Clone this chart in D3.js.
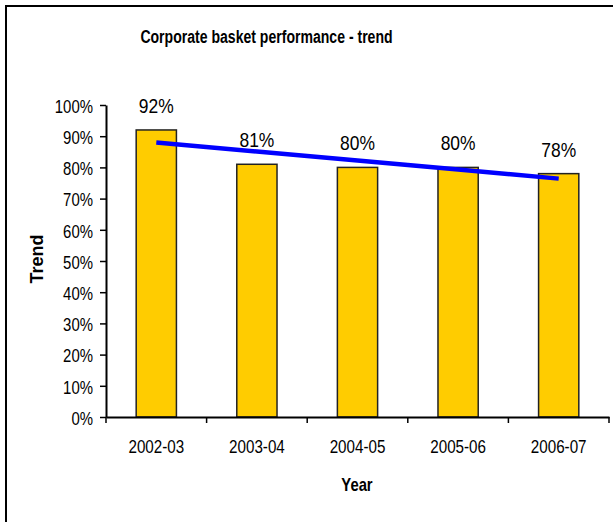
<!DOCTYPE html>
<html>
<head>
<meta charset="utf-8">
<script src="https://cdn.jsdelivr.net/npm/d3@7"></script>
<style>
  html, body { margin: 0; padding: 0; background: #fff; }
  svg { display: block; font-family: "Liberation Sans", Arial, sans-serif; }
</style>
</head>
<body>
<svg id="chart" width="613" height="522"></svg>
<script>
// Corporate basket performance by financial year
const years = ["2002-03", "2003-04", "2004-05", "2005-06", "2006-07"];
const performance = [92, 81, 80, 80, 78];
const yTicks = [0, 10, 20, 30, 40, 50, 60, 70, 80, 90, 100];

const svg = d3.select("#chart");

// chart-area frame
svg.append("rect")
  .attr("x", 6).attr("y", 6)
  .attr("width", 640).attr("height", 560)
  .attr("fill", "#fff").attr("stroke", "#000").attr("stroke-width", 2);

const plot = { left: 106, right: 609, top: 105, bottom: 417 };

const x = d3.scaleBand().domain(years).range([plot.left, plot.right]).padding(0);
const y = d3.scaleLinear().domain([0, 100]).range([plot.bottom, plot.top]);

const barW = x.bandwidth() * 0.4;

// bars
svg.append("g").selectAll("rect")
  .data(years.map((yr, i) => ({ yr, v: performance[i] })))
  .join("rect")
  .attr("x", d => x(d.yr) + x.bandwidth() / 2 - barW / 2)
  .attr("y", d => y(d.v))
  .attr("width", barW)
  .attr("height", d => y(0) - y(d.v))
  .attr("fill", "#FFCC00")
  .attr("stroke", "#222")
  .attr("stroke-width", 1.5);

// value labels
svg.append("g").selectAll("text")
  .data(years.map((yr, i) => ({ yr, v: performance[i] })))
  .join("text")
  .attr("transform", d => `translate(${x(d.yr) + x.bandwidth() / 2},${y(d.v) - 17}) scale(0.83,1)`)
  .attr("text-anchor", "middle")
  .attr("font-size", 21)
  .attr("fill", "#000")
  .text(d => d.v + "%");

// linear trend line (least squares over category index)
const n = performance.length;
const idx = d3.range(n);
const mx = d3.mean(idx), my = d3.mean(performance);
const slope = d3.sum(idx, i => (i - mx) * (performance[i] - my)) / d3.sum(idx, i => (i - mx) ** 2);
const fit = i => my + slope * (i - mx);
svg.append("path")
  .datum(idx)
  .attr("fill", "none")
  .attr("stroke", "#0000FF")
  .attr("stroke-width", 4.5)
  .attr("d", d3.line()
    .x(i => x(years[i]) + x.bandwidth() / 2)
    .y(i => y(fit(i))));

// y axis
const yAxis = svg.append("g")
  .attr("transform", `translate(${plot.left},0)`)
  .call(d3.axisLeft(y).tickValues(yTicks).tickFormat(d => d + "%").tickSize(6).tickSizeOuter(0));
yAxis.select(".domain").attr("stroke", "#000").attr("stroke-width", 2);
yAxis.selectAll(".tick line").attr("stroke", "#000").attr("stroke-width", 1.5);
yAxis.selectAll(".tick text")
  .attr("x", 0).attr("dy", "0.4em")
  .attr("transform", "translate(-13,0) scale(0.83,1)")
  .attr("font-size", 18)
  .attr("fill", "#000");

// x axis: category labels, ticks between categories
const xAxis = svg.append("g")
  .attr("transform", `translate(0,${plot.bottom})`)
  .call(d3.axisBottom(x).tickSize(0).tickSizeOuter(0));
xAxis.select(".domain").attr("stroke", "#000").attr("stroke-width", 2);
xAxis.selectAll(".tick text")
  .attr("y", 36).attr("dy", 0)
  .attr("transform", "scale(0.8,1)")
  .attr("font-size", 19)
  .attr("fill", "#000");
xAxis.selectAll(".tick text").each(function () {
  // keep label centred after horizontal scaling
  const t = d3.select(this.parentNode).attr("transform");
  const tx = +t.match(/translate\(([^,]+),/)[1];
  d3.select(this.parentNode).attr("transform", `translate(${tx},0)`);
});
xAxis.append("g").selectAll("line")
  .data(d3.range(years.length + 1))
  .join("line")
  .attr("x1", i => plot.left + i * x.step())
  .attr("x2", i => plot.left + i * x.step())
  .attr("y1", 0).attr("y2", 6)
  .attr("stroke", "#000").attr("stroke-width", 1.5);

// title
svg.append("text")
  .attr("transform", "translate(266.5,43) scale(0.74,1)")
  .attr("text-anchor", "middle")
  .attr("font-size", 19)
  .attr("font-weight", "bold")
  .attr("fill", "#000")
  .text("Corporate basket performance - trend");

// axis titles
svg.append("text")
  .attr("transform", "translate(357,491) scale(0.8,1)")
  .attr("text-anchor", "middle")
  .attr("font-size", 18.5)
  .attr("font-weight", "bold")
  .attr("fill", "#000")
  .text("Year");

svg.append("text")
  .attr("transform", "translate(43,259) rotate(-90)")
  .attr("text-anchor", "middle")
  .attr("font-size", 18)
  .attr("font-weight", "bold")
  .attr("fill", "#000")
  .text("Trend");
</script>
</body>
</html>
